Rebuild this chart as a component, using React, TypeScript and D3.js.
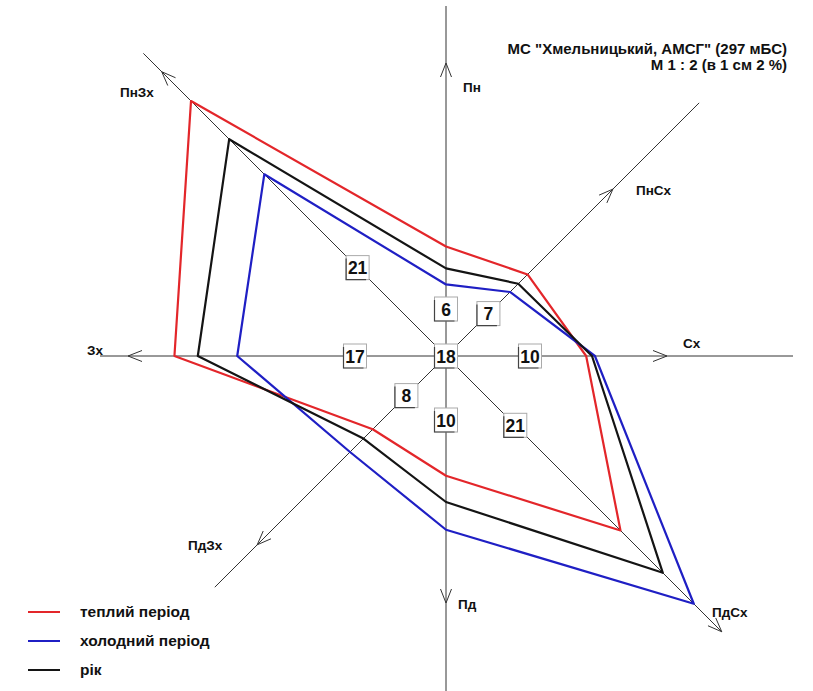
import React from 'react';
import * as d3 from 'd3';

// wind directions, clockwise from north
const directions = ['Пн', 'ПнСх', 'Сх', 'ПдСх', 'Пд', 'ПдЗх', 'Зх', 'ПнЗх'];
// frequency of winds, %
const warmPeriod = [7.5, 7.9, 9.6, 16.9, 8.2, 7.1, 18.6, 24.7];
const coldPeriod = [4.9, 6.2, 10.2, 24.0, 11.9, 9.3, 14.3, 17.6];
const yearValues = [6, 7, 10, 21, 10, 8, 17, 21];
const calm = 18;

const seriesNames = ['теплий період', 'холодний період', 'рік'];
const seriesColors = ['#e3262a', '#1f1fc4', '#141414'];

const W = 813;
const H = 691;
const cx = 446;
const cy = 356;

// axis geometry (px from centre): line end, arrow tip, label position
const axisEnd = [350, 358, 347, 390, 336, 327, 346, 428];
const arrowTip = [293, 236, 221, 390, 247, 267, 318, 402];
const boxR = [47, 60, 84, 98, 64, 56, 91, 125];
const labelPos: [number, number][] = [
  [463, 92], [636, 195], [683, 348], [712, 617],
  [458, 609], [188, 550], [87, 355], [120, 97],
];

const font = '"Liberation Sans", Arial, sans-serif';

export default function App() {
  const r = d3.scaleLinear().domain([0, 1]).range([0, 14.6]);
  const angle = d3.scaleLinear().domain([0, directions.length]).range([0, 2 * Math.PI]);
  const pt = (i: number, rad: number): [number, number] => {
    const a = angle(i);
    return [cx + rad * Math.sin(a), cy - rad * Math.cos(a)];
  };

  const radial = d3
    .lineRadial<number>()
    .angle((_, i) => angle(i))
    .radius((d) => r(d))
    .curve(d3.curveLinearClosed);

  const series = [warmPeriod, coldPeriod, yearValues];

  const arrow = (i: number) => {
    const a = angle(i);
    const [tx, ty] = pt(i, arrowTip[i]);
    const back = 14;
    const half = 5.5;
    const bx = tx - back * Math.sin(a);
    const by = ty + back * Math.cos(a);
    const px = Math.cos(a) * half;
    const py = Math.sin(a) * half;
    return `M${bx + px},${by + py}L${tx},${ty}L${bx - px},${by - py}`;
  };

  return (
    <svg
      width={W}
      height={H}
      style={{ position: 'absolute', left: 0, top: 0, background: '#fff' }}
      fontFamily={font}
    >
      {/* axes */}
      <g stroke="#333" strokeWidth={1} fill="none">
        {directions.map((d, i) => {
          const [x2, y2] = pt(i, axisEnd[i]);
          return <line key={d} x1={cx} y1={cy} x2={x2} y2={y2} />;
        })}
        {directions.map((d, i) => (
          <path key={'a' + d} d={arrow(i)} />
        ))}
      </g>

      {/* rose polygons */}
      <g transform={`translate(${cx},${cy})`} fill="none" strokeWidth={2.2} strokeLinejoin="round">
        {series.map((s, k) => (
          <path key={k} d={radial(s) || ''} stroke={seriesColors[k]} />
        ))}
      </g>

      {/* axis names */}
      <g fontWeight="bold" fontSize={13.5} fill="#111">
        {directions.map((d, i) => (
          <text key={d} x={labelPos[i][0]} y={labelPos[i][1]}>
            {d}
          </text>
        ))}
      </g>

      {/* value boxes */}
      {yearValues.map((v, i) => {
        const [bx, by] = pt(i, boxR[i]);
        return <ValueBox key={i} x={bx} y={by} value={v} />;
      })}
      <ValueBox x={cx} y={cy} value={calm} />

      {/* title */}
      <g fontWeight="bold" fontSize={15} fill="#111" textAnchor="end">
        <text x={787} y={54}>МС "Хмельницький, АМСГ" (297 мБС)</text>
        <text x={787} y={70}>М 1 : 2 (в 1 см 2 %)</text>
      </g>

      {/* legend */}
      <g fontWeight="bold" fontSize={15.5} fill="#111">
        {seriesNames.map((n, k) => {
          const y = 612 + k * 29;
          return (
            <g key={n}>
              <line x1={28} x2={60} y1={y} y2={y} stroke={seriesColors[k]} strokeWidth={2} />
              <text x={80} y={y + 5}>
                {n}
              </text>
            </g>
          );
        })}
      </g>
    </svg>
  );
}

function ValueBox({ x, y, value }: { x: number; y: number; value: number }) {
  const w = 23;
  const h = 24;
  const x0 = x - w / 2;
  const y0 = y - h / 2;
  return (
    <g>
      <rect x={x0} y={y0} width={w} height={h} fill="#fff" stroke="#aaa" strokeWidth={1} />
      <path d={`M${x0},${y0 + 3}V${y0 + h}H${x0 + w - 3}`} fill="none" stroke="#444" strokeWidth={1.2} />
      <text
        x={x}
        y={y + 6.5}
        textAnchor="middle"
        fontWeight="bold"
        fontSize={17.5}
        fill="#111"
        fontFamily={font}
      >
        {value}
      </text>
    </g>
  );
}
